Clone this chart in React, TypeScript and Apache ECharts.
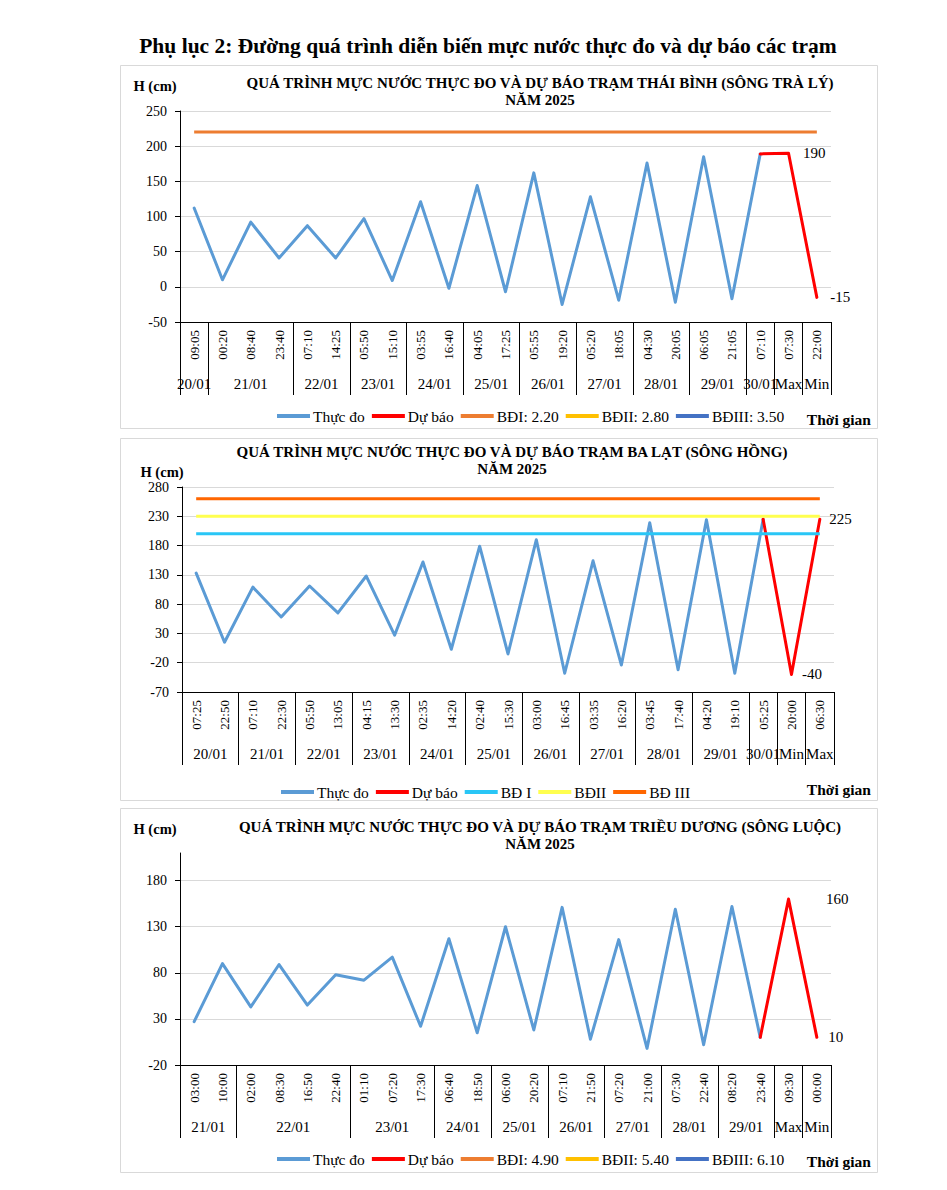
import React, { useEffect, useRef } from 'react';
import * as echarts from 'echarts';

const FONT = '"Liberation Serif", "Times New Roman", serif';

// ---------- Data: Thái Bình (sông Trà Lý) ----------
const times1 = ['09:05', '00:20', '08:40', '23:40', '07:10', '14:25', '05:50', '15:10', '03:55', '16:40', '04:05', '17:25', '05:55', '19:20', '05:20', '18:05', '04:30', '20:05', '06:05', '21:05', '07:10', '07:30', '22:00'];
const dates1 = ['20/01', '21/01', '22/01', '23/01', '24/01', '25/01', '26/01', '27/01', '28/01', '29/01', '30/01', 'Max', 'Min'];
const spans1 = [1, 3, 2, 2, 2, 2, 2, 2, 2, 2, 1, 1, 1];
const thucDo1 = [112, 10, 92, 41, 87, 41, 97, 9, 121, -2, 144, -7, 162, -25, 128, -19, 176, -22, 185, -17, 189];
const duBao1 = [null, null, null, null, null, null, null, null, null, null, null, null, null, null, null, null, null, null, null, null, 189, 190, -15];
const bdNames1 = ['BĐI: 2.20', 'BĐII: 2.80', 'BĐIII: 3.50'];
const bdValues1 = [220, 280, 350];
const yTicks1 = [-50, 0, 50, 100, 150, 200, 250];

// ---------- Data: Ba Lạt (sông Hồng) ----------
const times2 = ['07:25', '22:50', '07:10', '22:30', '05:50', '13:05', '04:15', '13:30', '02:35', '14:20', '02:40', '15:30', '03:00', '16:45', '03:35', '16:20', '03:45', '17:40', '04:20', '19:10', '05:25', '20:00', '06:30'];
const dates2 = ['20/01', '21/01', '22/01', '23/01', '24/01', '25/01', '26/01', '27/01', '28/01', '29/01', '30/01', 'Min', 'Max'];
const spans2 = [2, 2, 2, 2, 2, 2, 2, 2, 2, 2, 1, 1, 1];
const thucDo2 = [133, 15, 109, 58, 111, 65, 128, 27, 152, 3, 179, -5, 190, -38, 154, -24, 219, -32, 224, -38, 225];
const duBao2 = [null, null, null, null, null, null, null, null, null, null, null, null, null, null, null, null, null, null, null, null, 225, -40, 225];
const bdNames2 = ['BĐ I', 'BĐII', 'BĐ III'];
const bdValues2 = [200, 230, 260];
const yTicks2 = [-70, -20, 30, 80, 130, 180, 230, 280];

// ---------- Data: Triều Dương (sông Luộc) ----------
const times3 = ['03:00', '10:00', '02:00', '08:30', '16:50', '22:40', '01:10', '07:20', '17:30', '06:40', '18:50', '06:00', '20:20', '07:10', '21:50', '07:20', '21:00', '07:30', '22:40', '08:20', '23:40', '09:30', '00:00'];
const dates3 = ['21/01', '22/01', '23/01', '24/01', '25/01', '26/01', '27/01', '28/01', '29/01', 'Max', 'Min'];
const spans3 = [2, 4, 3, 2, 2, 2, 2, 2, 2, 1, 1];
const thucDo3 = [27, 90, 43, 89, 45, 78, 72, 97, 22, 117, 15, 130, 18, 151, 8, 116, -2, 149, 2, 152, 10];
const duBao3 = [null, null, null, null, null, null, null, null, null, null, null, null, null, null, null, null, null, null, null, null, 10, 160, 10];
const bdNames3 = ['BĐI: 4.90', 'BĐII: 5.40', 'BĐIII: 6.10'];
const bdValues3 = [490, 540, 610];
const yTicks3 = [-20, 30, 80, 130, 180];

const PAGE_TITLE = 'Phụ lục 2: Đường quá trình diễn biến mực nước thực đo và dự báo các trạm';
const titles = [
  'QUÁ TRÌNH MỰC NƯỚC THỰC ĐO VÀ DỰ BÁO TRẠM THÁI BÌNH (SÔNG TRÀ LÝ)\nNĂM 2025',
  'QUÁ TRÌNH MỰC NƯỚC THỰC ĐO VÀ DỰ BÁO TRẠM BA LẠT (SÔNG HỒNG)\nNĂM 2025',
  'QUÁ TRÌNH MỰC NƯỚC THỰC ĐO VÀ DỰ BÁO TRẠM TRIỀU DƯƠNG (SÔNG LUỘC)\nNĂM 2025',
];

// ---------- Layout / style ----------
const panels = [
  {
    times: times1, dates: dates1, spans: spans1, thucDo: thucDo1, duBao: duBao1,
    bdNames: bdNames1, bdValues: bdValues1, yTicks: yTicks1, yMin: -50, yMax: 250,
    bdColors: ['#ed7d31', '#ffc000', '#4472c4'],
    labelDist: { 21: 14, 22: 13 } as Record<number, number>,
    box: [120, 65, 757, 363], grid: { left: 180, top: 111, width: 651, height: 211 },
    titleX: 540, titleY: 74, hcm: [155, 86], legend: { left: 272, top: 403 }, tg: [871, 419],
  },
  {
    times: times2, dates: dates2, spans: spans2, thucDo: thucDo2, duBao: duBao2,
    bdNames: bdNames2, bdValues: bdValues2, yTicks: yTicks2, yMin: -70, yMax: 280,
    bdColors: ['#29c6f6', '#ffff4f', '#ff6600'],
    labelDist: { 21: 10, 22: 9 } as Record<number, number>,
    box: [120, 438, 757, 362], grid: { left: 182, top: 487, width: 652, height: 205 },
    titleX: 512, titleY: 443, hcm: [162, 472], legend: { left: 276, top: 779 }, tg: [871, 789],
  },
  {
    times: times3, dates: dates3, spans: spans3, thucDo: thucDo3, duBao: duBao3,
    bdNames: bdNames3, bdValues: bdValues3, yTicks: yTicks3, yMin: -20, yMax: 210,
    bdColors: ['#ed7d31', '#ffc000', '#4472c4'],
    labelDist: { 21: 37, 22: 11 } as Record<number, number>,
    box: [120, 808, 757, 364], grid: { left: 180, top: 853, width: 651, height: 212 },
    titleX: 540, titleY: 818, hcm: [155, 829], legend: { left: 272, top: 1146 }, tg: [871, 1161],
  },
];

function buildOption() {
  const grid: any[] = [];
  const xAxis: any[] = [];
  const yAxis: any[] = [];
  const series: any[] = [];
  const legend: any[] = [];
  const graphic: any[] = [];

  graphic.push({
    type: 'text', x: 488, y: 46, z: 10,
    style: { text: PAGE_TITLE, fill: '#000', fontFamily: FONT, fontWeight: 'bold', fontSize: 21.5, align: 'center', verticalAlign: 'middle' },
  });

  panels.forEach((p, i) => {
    const [bx, by, bw, bh] = p.box;
    graphic.push({
      type: 'rect', z: 0, shape: { x: bx + 0.5, y: by + 0.5, width: bw, height: bh },
      style: { fill: 'none', stroke: '#d9d9d9', lineWidth: 1 },
    });
    graphic.push({
      type: 'text', x: p.titleX, y: p.titleY, z: 10,
      style: { text: titles[i], fill: '#000', fontFamily: FONT, fontWeight: 'bold', fontSize: 15, lineHeight: 17, align: 'center', verticalAlign: 'top' },
    });
    graphic.push({
      type: 'text', x: p.hcm[0], y: p.hcm[1], z: 10,
      style: { text: 'H (cm)', fill: '#000', fontFamily: FONT, fontWeight: 'bold', fontSize: 14.5, align: 'center', verticalAlign: 'middle' },
    });
    graphic.push({
      type: 'text', x: p.tg[0], y: p.tg[1], z: 10,
      style: { text: 'Thời gian', fill: '#000', fontFamily: FONT, fontWeight: 'bold', fontSize: 15.5, align: 'right', verticalAlign: 'middle' },
    });

    grid.push({ ...p.grid, containLabel: false });

    // group boundaries and centres derived from the spans
    const bounds: number[] = [0];
    const centers: number[] = [];
    let acc = 0;
    p.spans.forEach((s) => {
      centers.push(acc + s / 2);
      acc += s;
      bounds.push(acc);
    });

    xAxis.push({
      type: 'category', gridIndex: i, data: p.times, boundaryGap: true, position: 'bottom',
      axisLine: { show: true, onZero: false, lineStyle: { color: '#000', width: 1 } },
      axisTick: { show: false },
      axisLabel: { interval: 0, rotate: 90, margin: 8, fontSize: 13, fontFamily: FONT, color: '#000' },
      splitLine: { show: false },
    });
    xAxis.push({
      type: 'value', gridIndex: i, position: 'bottom', min: 0, max: p.times.length,
      axisLine: { show: false, onZero: false },
      splitLine: { show: false },
      axisTick: { show: true, customValues: bounds, length: 73, lineStyle: { color: '#000', width: 1 } },
      axisLabel: {
        customValues: centers, margin: 54, fontSize: 15, fontFamily: FONT, color: '#000',
        formatter: (v: number) => {
          let best = 0;
          centers.forEach((c, k) => { if (Math.abs(c - v) < Math.abs(centers[best] - v)) best = k; });
          return p.dates[best];
        },
      },
    });

    yAxis.push({
      type: 'value', gridIndex: i, min: p.yMin, max: p.yMax,
      axisLine: { show: true, onZero: false, lineStyle: { color: '#000', width: 1 } },
      axisTick: { show: true, inside: false, length: 5, customValues: p.yTicks, lineStyle: { color: '#000' } },
      axisLabel: { customValues: p.yTicks, margin: 13, fontSize: 14, fontFamily: FONT, color: '#000' },
      splitLine: { show: true, lineStyle: { color: '#d9d9d9', width: 1 } },
    });

    const xi = i * 2;
    series.push({
      name: 'Thực đo', type: 'line', xAxisIndex: xi, yAxisIndex: i, data: p.thucDo,
      symbol: 'none', showSymbol: false, clip: true,
      lineStyle: { color: '#5b9bd5', width: 3, cap: 'round', join: 'round' },
      itemStyle: { color: '#5b9bd5' },
    });
    series.push({
      name: 'Dự báo', type: 'line', xAxisIndex: xi, yAxisIndex: i,
      data: p.duBao.map((v, k) => (v === null ? null : p.labelDist[k] !== undefined ? {
        value: v,
        label: { show: true, position: 'right', distance: p.labelDist[k], color: '#000', fontSize: 15, fontFamily: FONT },
      } : v)),
      symbol: 'circle', symbolSize: 1, showSymbol: true, clip: true,
      lineStyle: { color: '#ff0000', width: 3, cap: 'round', join: 'round' },
      itemStyle: { color: '#ff0000' },
    });
    p.bdNames.forEach((name, k) => {
      series.push({
        name, type: 'line', xAxisIndex: xi, yAxisIndex: i,
        data: p.times.map(() => p.bdValues[k]),
        symbol: 'none', showSymbol: false, clip: true,
        lineStyle: { color: p.bdColors[k], width: 3 },
        itemStyle: { color: p.bdColors[k] },
      });
    });

    legend.push({
      data: ['Thực đo', 'Dự báo', ...p.bdNames],
      left: p.legend.left, top: p.legend.top, orient: 'horizontal',
      icon: 'rect', itemWidth: 33, itemHeight: 4, itemGap: 7, selectedMode: false,
      textStyle: { fontSize: 15.5, fontFamily: FONT, color: '#000', padding: [0, 0, 0, -2] },
    });
  });

  return {
    animation: false,
    backgroundColor: '#fff',
    textStyle: { fontFamily: FONT },
    grid, xAxis, yAxis, series, legend, graphic,
  };
}

export default function App() {
  const ref = useRef<HTMLDivElement>(null);
  useEffect(() => {
    if (!ref.current) return;
    const chart = echarts.init(ref.current, null, { renderer: 'svg' });
    chart.setOption(buildOption() as any);
    return () => chart.dispose();
  }, []);
  return (
    <div
      ref={ref}
      style={{ position: 'absolute', left: 0, top: 0, width: 947, height: 1190, background: '#fff' }}
    />
  );
}
